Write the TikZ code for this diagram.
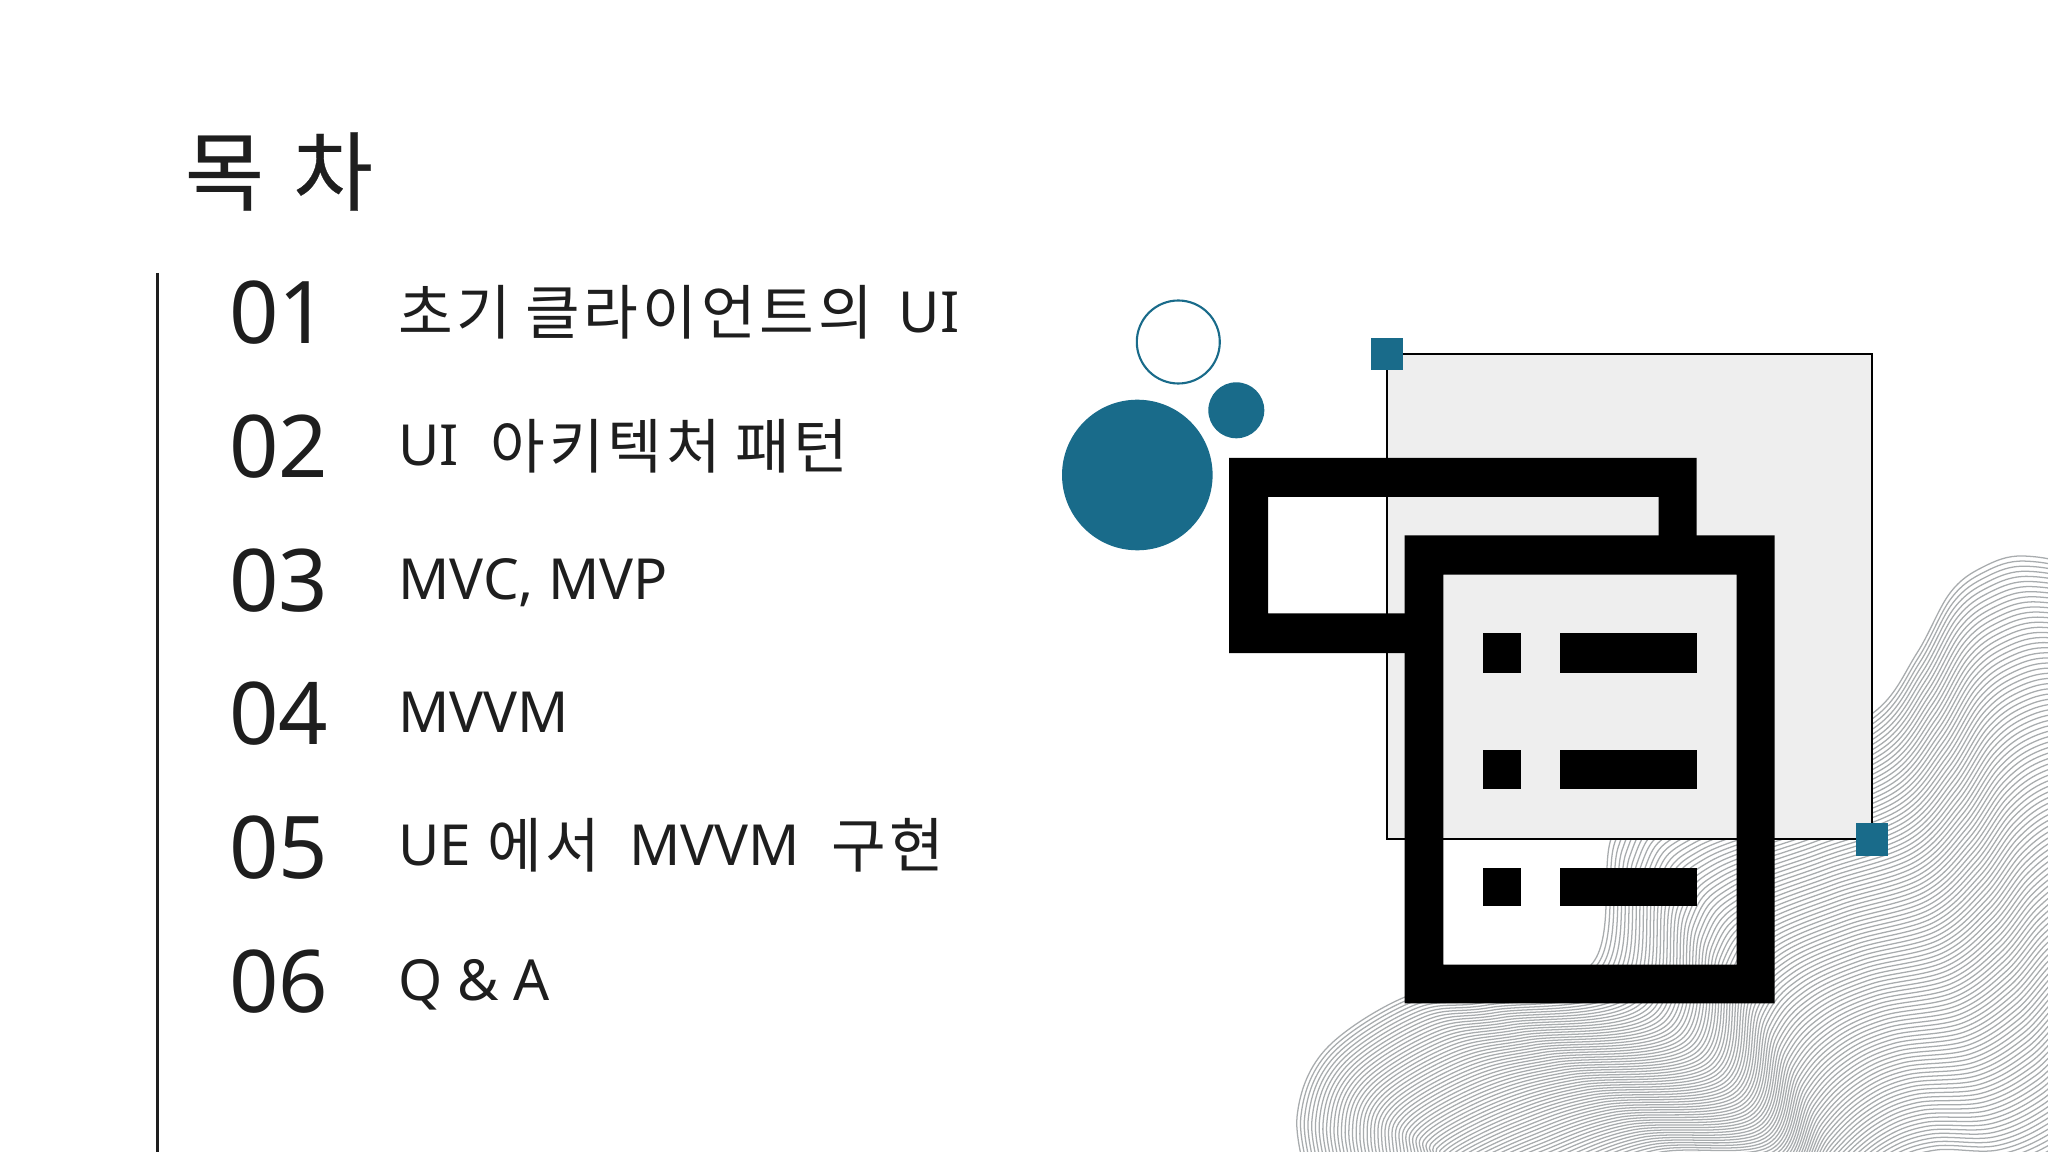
\documentclass[tikz,border=0pt]{standalone}
\usepackage{fontspec}
\setmainfont{Noto Sans}
\newfontfamily\krfont[LetterSpace=6.5,Scale=1.05]{Noto Sans CJK KR}
\newfontfamily\krtitle[FakeBold=0.35]{Noto Sans CJK KR}
\definecolor{teal1}{HTML}{196B8A}
\definecolor{ink}{HTML}{1E1E1E}
\definecolor{panel}{HTML}{EEEEEE}
\definecolor{wave}{HTML}{A8ACAE}
\newdimen\pxu \pxu=0.2845pt
\newcommand{\kt}[1]{\raisebox{-2\pxu}{\krfont #1}}
\tikzset{
  numtext/.style={anchor=base west,inner sep=0pt,text=ink,font=\fontsize{24.6}{30}\selectfont},
  itemtext/.style={anchor=base west,inner sep=0pt,text=ink,font=\fontsize{16.1}{20}\selectfont},
  titletext/.style={anchor=base west,inner sep=0pt,text=ink,font=\fontsize{24.6}{30}\selectfont},
  tealfill/.style={fill=teal1,draw=none},
  blackfill/.style={fill=black,draw=none},
  waveline/.style={draw=wave,line width=0.36pt}
}
\begin{document}
\begin{tikzpicture}[x=0.01cm,y=-0.01cm]
\useasboundingbox (0,0) rectangle (2048,1152);
\fill[white] (0,0) rectangle (2048,1152);
% contour lines
\begin{scope}
\clip (0,0) rectangle (2048,1152);
\foreach \k in {0,...,114}{
  \draw[waveline] plot[smooth,tension=0.6] coordinates {
    ({1310+\k*4.0},{1190+\k*1.0})
    ({1297+\k*3.7},{1117+\k*1.2})
    ({1325+\k*3.0},{1050+\k*2.4})
    ({1405+\k*2.6},{997+\k*2.9})
    ({1470+\k*2.9},{990+\k*2.5})
    ({1591+\k*3.79-\k*\k*0.0164},{965+\k*2.75})
    ({1611+\k*3.77-\k*\k*0.0139},{839+\k*3.6})
    ({1650+\k*3.5-\k*\k*0.0108},{795+\k*3.7})
    ({1780+\k*1.56},{755+\k*3.95})
    ({1873+\k*1.25},{713+\k*4.37})
    ({1917+\k*1.33},{653+\k*4.75})
    ({1950+\k*1.39},{593+\k*5.0})
    ({1983+\k*1.45},{567+\k*5.0})
    ({2023+\k*1.45},{556+\k*5.1})
    ({2080+\k*1.4},{570+\k*5.1})
    ({2140+\k*1.3},{620+\k*5.0})
  };
}
\end{scope}
% panel
\draw[fill=panel,draw=black,line width=0.57pt] (1387,354) rectangle (1872,839);
\fill[tealfill] (1371,338) rectangle (1403,370);
\fill[tealfill] (1856,823) rectangle (1888,856);
% circles
\draw[teal1,line width=0.6pt] (1178.3,342) circle (41.5);
\fill[tealfill] (1236.3,410.3) circle (28);
\fill[tealfill] (1137.3,475) circle (75.3);
% icon
\fill[blackfill] (1229,458)--(1696.6,458)--(1696.6,536)--(1658.6,536)--(1658.6,497)--(1268,497)--(1268,613.4)--(1405,613.4)--(1405,653.2)--(1229,653.2)--cycle;
\fill[blackfill,even odd rule] (1404.7,535.5) rectangle (1774.7,1003.3) (1443.4,574.7) rectangle (1736.5,964.7);
\foreach \ya/\yb in {632.9/672.7,749.6/788.6,867.5/906}{
  \fill[blackfill] (1483,\ya) rectangle (1520.7,\yb);
  \fill[blackfill] (1560,\ya) rectangle (1696.8,\yb);
}
% left rule
\draw[ink,line width=0.57pt] (157.5,273) -- (157.5,1152);
% texts
\node[titletext] (title) at (184,204) {\krtitle 목\hspace{29\pxu}차};
\node[numtext] (n1) at (228.5,344) {01};
\node[numtext] (n2) at (228.5,478) {02};
\node[numtext] (n3) at (228.5,611.7) {03};
\node[numtext] (n4) at (228.5,744.7) {04};
\node[numtext] (n5) at (228.5,878.5) {05};
\node[numtext] (n6) at (228.5,1012) {06};
\node[itemtext] (t1) at (397.5,332.7) {\kt{초기}\hspace{14\pxu}\kt{클라이언트의}\hspace{26\pxu}UI};
\node[itemtext] (t2) at (397.5,466) {UI\hspace{32\pxu}\kt{아키텍처}\hspace{14\pxu}\kt{패턴}};
\node[itemtext] (t3) at (397.5,599.6) {MVC, MVP};
\node[itemtext] (t4) at (397.5,732.6) {MVVM};
\node[itemtext] (t5) at (397.5,865.6) {UE\hspace{16\pxu}\kt{에서}\hspace{29\pxu}MVVM\hspace{31\pxu}\kt{구현}};
\node[itemtext] (t6) at (397.5,1000) {Q \& A};
\end{tikzpicture}
\end{document}
